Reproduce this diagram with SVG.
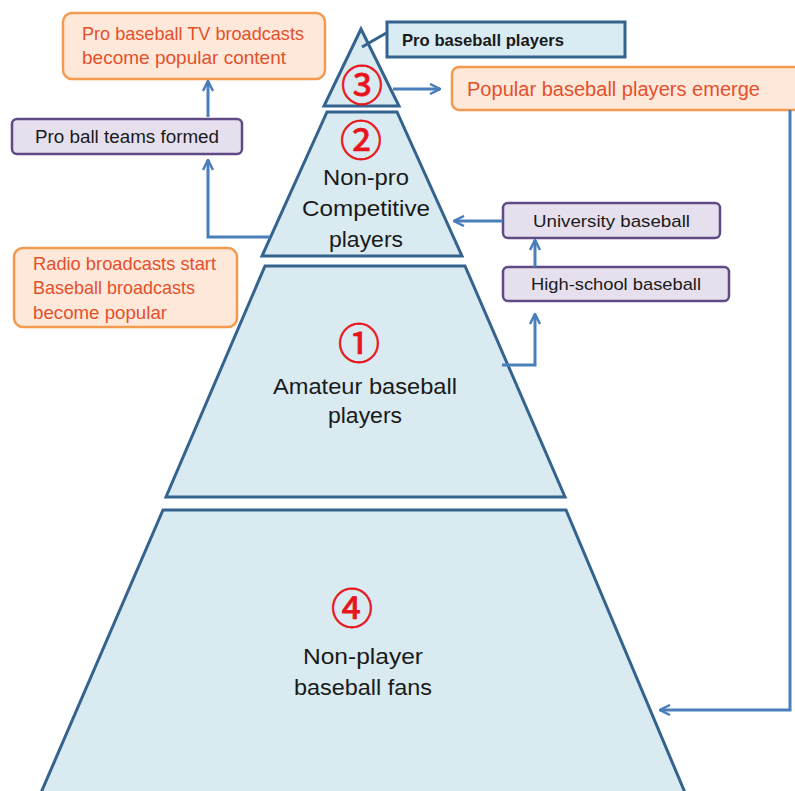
<svg xmlns="http://www.w3.org/2000/svg" width="795" height="791" viewBox="0 0 795 791">
<style>
.tier{fill:#d9eaf1;stroke:#35638f;stroke-width:3;stroke-linejoin:miter}
.org{fill:#fde8da;stroke:#f39a4e;stroke-width:2.5}
.pur{fill:#e6e0ee;stroke:#5f4a85;stroke-width:2.5}
.blu{fill:#daecf3;stroke:#35638f;stroke-width:3}
.t{font-family:"Liberation Sans","DejaVu Sans",sans-serif;fill:#1a1a1a}
.ot{font-family:"Liberation Sans","DejaVu Sans",sans-serif;fill:#e5502c;font-size:18.5px}
.num{font-family:"Noto Sans CJK JP","DejaVu Sans",sans-serif;fill:#e8141c;font-size:42px;text-anchor:middle;stroke:#e8141c;stroke-width:0.8}
.c{fill:none;stroke:#4a7ebb;stroke-width:3}
.big{font-size:22px;text-anchor:middle}
</style>
<defs>
<marker id="ah" viewBox="0 0 12 12" refX="11" refY="6" markerWidth="12" markerHeight="12" markerUnits="userSpaceOnUse" orient="auto">
<path d="M1,1 L11,6 L1,11" fill="none" stroke="#4a7ebb" stroke-width="2.5"/>
</marker>
</defs>

<g id="tier4">
<polygon class="tier" points="163,510 566,510 686,795 40,795"/>
<text class="num" x="352" y="624">④</text>
<text class="t big" x="363" y="664" textLength="120" lengthAdjust="spacingAndGlyphs">Non-player</text>
<text class="t big" x="363" y="695" textLength="138" lengthAdjust="spacingAndGlyphs">baseball fans</text>
</g>
<g id="tier1">
<polygon class="tier" points="265,266 465,266 565,497 166,497"/>
<text class="num" x="359" y="359">①</text>
<text class="t big" x="365" y="394" textLength="184" lengthAdjust="spacingAndGlyphs">Amateur baseball</text>
<text class="t big" x="365" y="423" textLength="74" lengthAdjust="spacingAndGlyphs">players</text>
</g>
<g id="tier2">
<polygon class="tier" points="327,112 397,112 462,256 262,256"/>
<text class="num" x="361" y="156">②</text>
<text class="t big" x="366" y="185" textLength="86" lengthAdjust="spacingAndGlyphs">Non-pro</text>
<text class="t big" x="366" y="216" textLength="128" lengthAdjust="spacingAndGlyphs">Competitive</text>
<text class="t big" x="366" y="247" textLength="74" lengthAdjust="spacingAndGlyphs">players</text>
</g>
<g id="tier3">
<polygon class="tier" points="361,29 399,106 324,106"/>
<text class="num" x="362" y="101">③</text>
</g>

<g id="pro-players">
<line x1="388" y1="32" x2="362" y2="47" stroke="#35638f" stroke-width="3"/>
<rect class="blu" x="387" y="22" width="238" height="35"/>
<text class="t" x="402" y="46" font-size="17" font-weight="bold" textLength="162" lengthAdjust="spacingAndGlyphs">Pro baseball players</text>
</g>
<g id="popular">
<rect class="org" x="452" y="67" width="360" height="43" rx="7"/>
<text class="ot" x="467" y="96" style="font-size:20px" textLength="293" lengthAdjust="spacingAndGlyphs">Popular baseball players emerge</text>
</g>
<g id="tv">
<rect class="org" x="63" y="13" width="262" height="66" rx="9"/>
<text class="ot" x="82" y="40" textLength="222" lengthAdjust="spacingAndGlyphs">Pro baseball TV broadcasts</text>
<text class="ot" x="82" y="64" textLength="204" lengthAdjust="spacingAndGlyphs">become popular content</text>
</g>
<g id="teams">
<rect class="pur" x="12" y="119" width="230" height="35" rx="5"/>
<text class="t" x="35" y="143" font-size="17.5" textLength="184" lengthAdjust="spacingAndGlyphs">Pro ball teams formed</text>
</g>
<g id="radio">
<rect class="org" x="14" y="248" width="223" height="79" rx="9"/>
<text class="ot" x="33" y="270" textLength="183" lengthAdjust="spacingAndGlyphs">Radio broadcasts start</text>
<text class="ot" x="33" y="294" textLength="162" lengthAdjust="spacingAndGlyphs">Baseball broadcasts</text>
<text class="ot" x="33" y="319" textLength="134" lengthAdjust="spacingAndGlyphs">become popular</text>
</g>
<g id="university">
<rect class="pur" x="503" y="203" width="217" height="35" rx="5"/>
<text class="t" x="533" y="227" font-size="17" textLength="157" lengthAdjust="spacingAndGlyphs">University baseball</text>
</g>
<g id="highschool">
<rect class="pur" x="503" y="267" width="226" height="34" rx="5"/>
<text class="t" x="531" y="290" font-size="17" textLength="170" lengthAdjust="spacingAndGlyphs">High-school baseball</text>
</g>

<g id="connectors">
<path class="c" d="M393,89 L440,89" marker-end="url(#ah)"/>
<path class="c" d="M208,117 L208,81" marker-end="url(#ah)"/>
<path class="c" d="M270,237 L208,237 L208,160" marker-end="url(#ah)"/>
<path class="c" d="M503,221 L454,221" marker-end="url(#ah)"/>
<path class="c" d="M535,267 L535,240" marker-end="url(#ah)"/>
<path class="c" d="M502,365 L535,365 L535,314" marker-end="url(#ah)"/>
<path class="c" d="M790,110 L790,710 L660,710" marker-end="url(#ah)"/>
</g>
</svg>
